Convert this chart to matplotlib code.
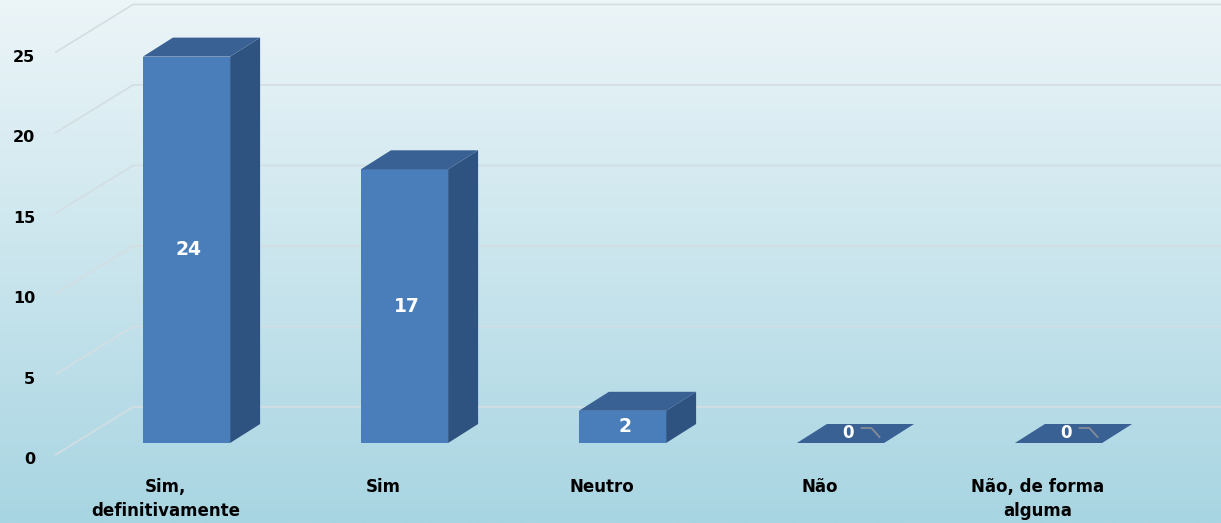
import numpy as np
import matplotlib
matplotlib.use("Agg")
import matplotlib.pyplot as plt
from matplotlib.patches import Polygon

categories = ["Sim,\ndefinitivamente", "Sim", "Neutro", "Não", "Não, de forma\nalguma"]
values = [24, 17, 2, 0, 0]
y_ticks = [0, 5, 10, 15, 20, 25]

front_color = "#4a7ebb"
side_color = "#2f5381"
top_color = "#3a6194"
grid_color = "#d3dee3"

bar_width = 0.4
depth_x = 0.1376
depth_y = 1.18

fig = plt.figure(figsize=(12.21, 5.23), dpi=100)
ax = fig.add_axes([0, 0, 1, 1])
ax.set_xlim(-0.8555, 4.7454)
ax.set_ylim(-4.969, 27.516)
ax.axis("off")

# background gradient, light at the top, light blue at the bottom
top_rgb = np.array([0xec, 0xf5, 0xf8]) / 255
bottom_rgb = np.array([0xa8, 0xd5, 0xe2]) / 255
t = np.linspace(0, 1, 256)[:, None]
grad = top_rgb * (1 - t) + bottom_rgb * t
ax.imshow(grad[:, None, :], extent=(-0.8555, 4.7454, -4.969, 27.516),
          aspect="auto", zorder=0, origin="upper")

# back wall / floor gridlines
for v in y_ticks:
    ax.plot([-0.603, -0.245, 4.8], [v - 0.75, v + 2.24, v + 2.24],
            color=grid_color, lw=1.2, zorder=1, solid_capstyle="butt")
    ax.text(-0.695, v - 1.05, str(v), ha="right", va="center",
            fontsize=11.5, fontweight="bold", color="black", zorder=5)

for i, (label, v) in enumerate(zip(categories, values)):
    x0 = i - bar_width / 2
    x1 = i + bar_width / 2
    if v > 0:
        ax.bar(i, v, width=bar_width, color=front_color, zorder=3, linewidth=0)
        side = [(x1, 0), (x1 + depth_x, depth_y), (x1 + depth_x, v + depth_y), (x1, v)]
        ax.add_patch(Polygon(side, closed=True, facecolor=side_color, lw=0, zorder=3))
    top = [(x0, v), (x1, v), (x1 + depth_x, v + depth_y), (x0 + depth_x, v + depth_y)]
    ax.add_patch(Polygon(top, closed=True, facecolor=top_color, lw=0, zorder=3))

    if v > 0:
        ax.text(i + 0.01, v / 2, str(v), ha="center", va="center", color="white",
                fontsize=13.5, fontweight="bold", zorder=4)
    else:
        ax.text(i + 0.035, 0.65, "0", ha="center", va="center", color="white",
                fontsize=12, fontweight="bold", zorder=4)
        ax.plot([i + 0.096, i + 0.142, i + 0.179], [0.93, 0.93, 0.37],
                color="#8a8f96", lw=1.2, zorder=4)

    ax.text(i - 0.096, -2.17, label, ha="center", va="top", fontsize=12,
            fontweight="bold", color="black", linespacing=1.4, zorder=5)

fig.savefig("out.png", dpi=100)
